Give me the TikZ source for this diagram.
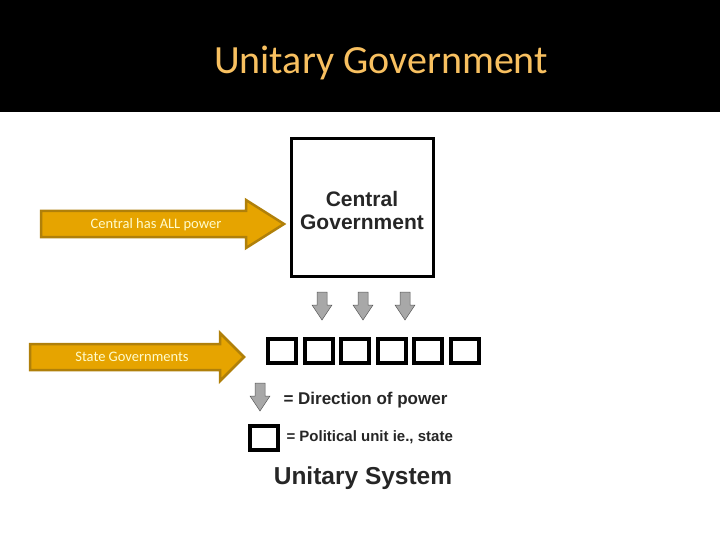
\documentclass[tikz,border=0pt]{standalone}
\usepackage{fontspec}
\setmainfont{Liberation Sans}
\newfontfamily\carlitofont{Carlito}
\definecolor{gold}{HTML}{E6A400}
\definecolor{golddk}{HTML}{B0800A}
\definecolor{titleor}{HTML}{F8C060}
\definecolor{arrgray}{HTML}{A8A8A8}
\begin{document}
\begin{tikzpicture}[x=1pt,y=-1pt,
  unit/.style={draw=black,line width=4pt,minimum width=28pt,minimum height=24pt,inner sep=0pt},
  graydown/.style={fill=arrgray,draw=gray!70!black,line width=0.5pt},
  goldarrow/.style={fill=gold,draw=golddk,line width=2.5pt,line join=miter}]
\useasboundingbox (0,0) rectangle (720,540);
\fill[black] (0,0) rectangle (720,112);
\node[text=titleor,font=\carlitofont\fontsize{40}{48}\selectfont] (title) at (381,63) {Unitary Government};
% central box
\node[draw=black,line width=3.5pt,minimum width=142pt,minimum height=138pt,inner sep=0pt] (central) at (362.5,207.5) {};
\node[font=\bfseries\fontsize{21}{23}\selectfont,align=center,text=black!85] (ctext) at (362,210) {Central\\Government};
% gold arrows
\draw[goldarrow] (41,211)--(246,211)--(246,200)--(284,224)--(246,248)--(246,237)--(41,237)--cycle;
\node[text=yellow!20,font=\carlitofont\fontsize{14.5}{17}\selectfont] (a1) at (156,225) {Central has ALL power};
\draw[goldarrow] (30,344)--(220,344)--(220,333)--(244,357)--(220,381)--(220,370)--(30,370)--cycle;
\node[text=yellow!20,font=\carlitofont\fontsize{14.5}{17}\selectfont] (a2) at (132,357) {State Governments};
% gray down arrows
\foreach \x in {322,363,405}{
  \draw[graydown] (\x-5,292)--(\x+5,292)--(\x+5,305)--(\x+10,305)--(\x,320)--(\x-10,305)--(\x-5,305)--cycle;}
\draw[graydown] (255,383)--(265,383)--(265,396)--(270,396)--(260,411)--(250,396)--(255,396)--cycle;
% units
\foreach \i in {0,...,5}{
  \node[unit] (u\i) at (282+36.5*\i,351) {};}
\node[unit] (lu) at (264,438) {};
\node[anchor=west,font=\bfseries\fontsize{17}{20}\selectfont,text=black!85] (l1) at (280,400) {= Direction of power};
\node[anchor=west,font=\bfseries\fontsize{15}{18}\selectfont,text=black!85] (l2) at (283,437) {= Political unit ie., state};
\node[font=\bfseries\fontsize{24.5}{28}\selectfont,text=black!85] (us) at (363,478) {Unitary System};
\end{tikzpicture}
\end{document}
